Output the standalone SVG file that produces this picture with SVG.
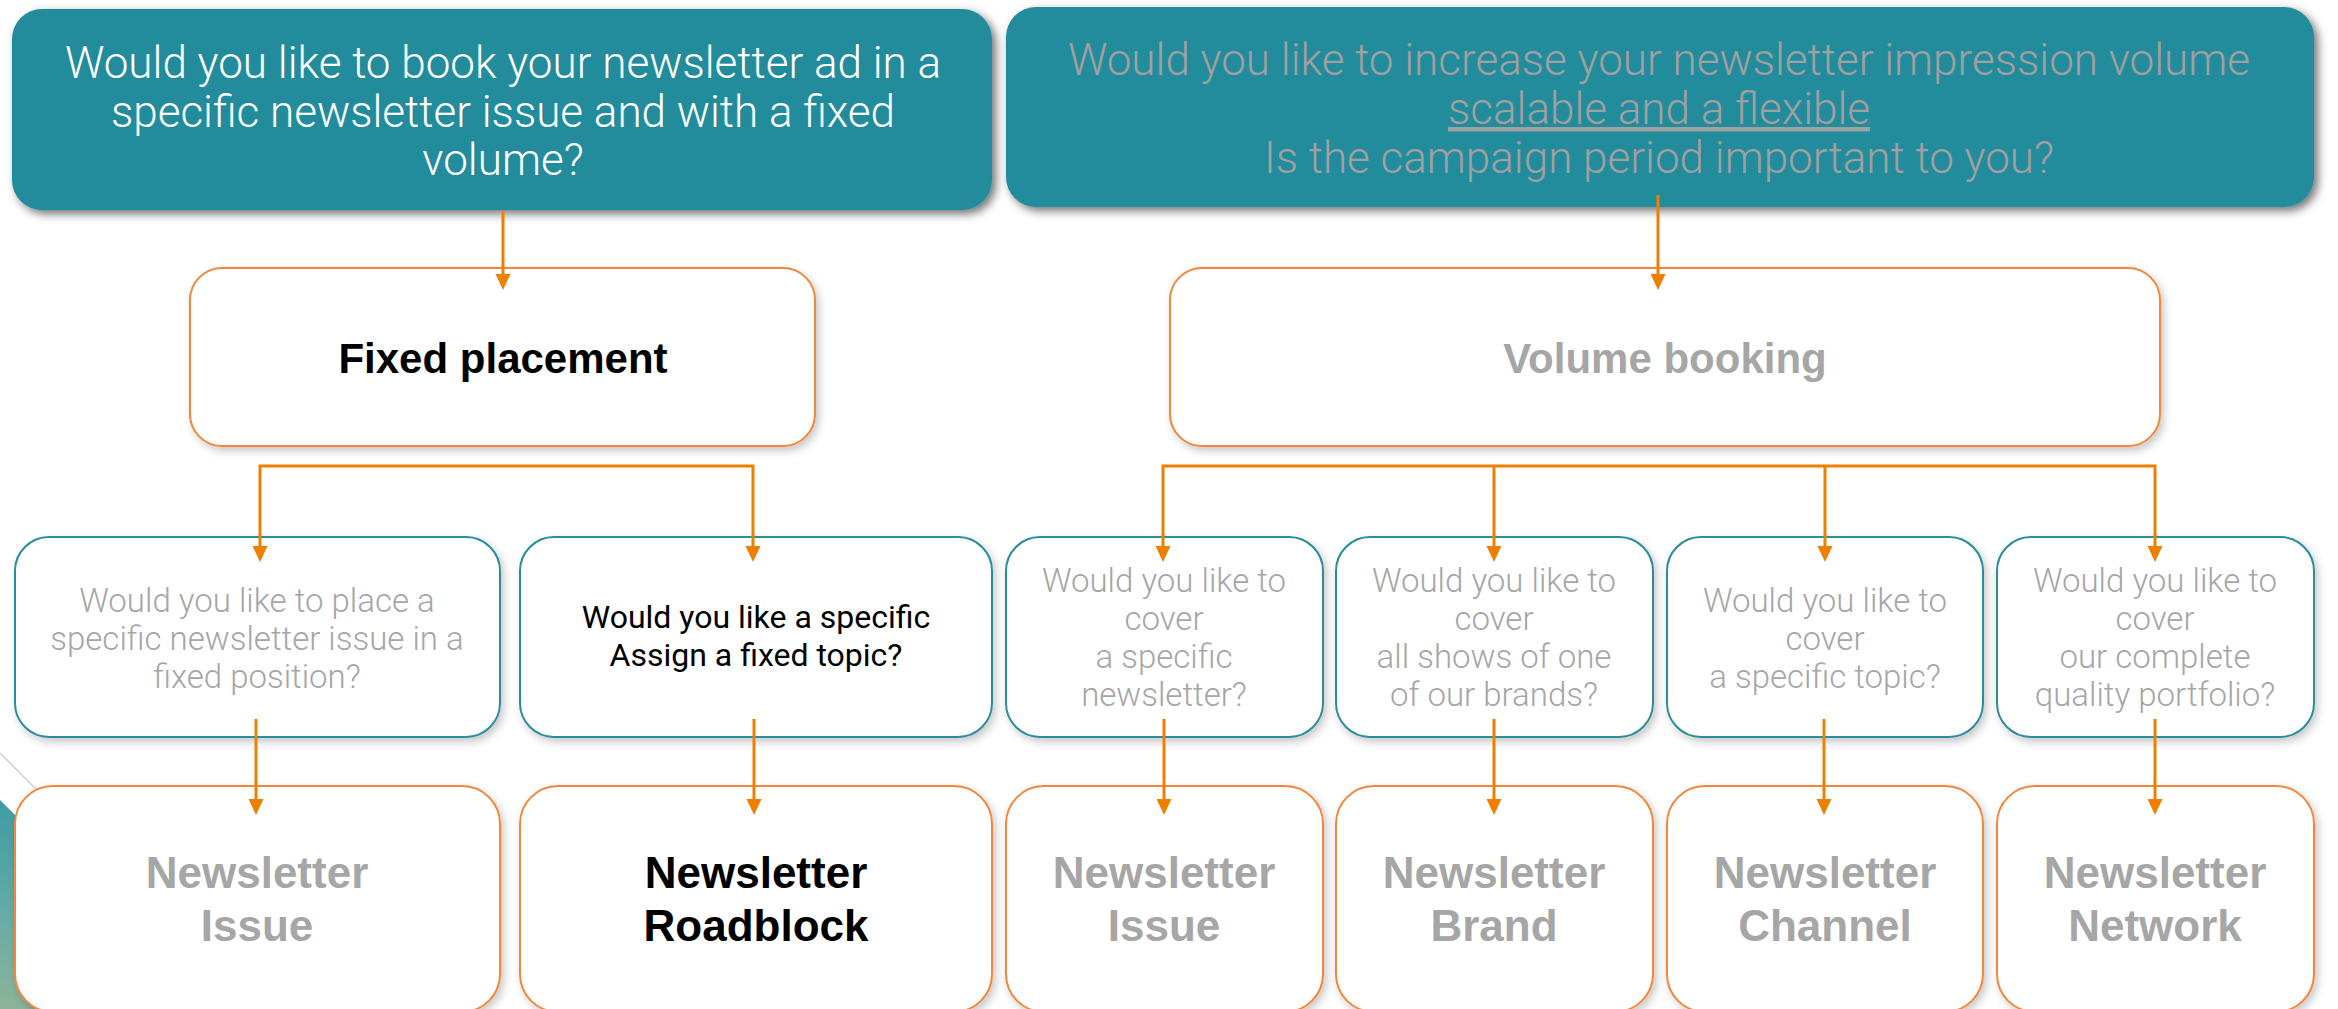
<svg xmlns="http://www.w3.org/2000/svg" width="2338" height="1009" viewBox="0 0 2338 1009">
<defs>
<style>
.top{fill:#218c9c}
.q{fill:#fff;stroke:#2a8d9c;stroke-width:2}
.r{fill:#fff;stroke:#f2873a;stroke-width:2}
.lt{font-family:Roboto,"Liberation Sans",sans-serif;font-weight:300;text-anchor:middle}
.rg{font-family:Roboto,"Liberation Sans",sans-serif;font-weight:400;text-anchor:middle}
.bd{font-family:"Liberation Sans",Arial,sans-serif;font-weight:700;text-anchor:middle}
.gray{fill:#a6a6a6}
.conn{fill:none;stroke:#ee7f00;stroke-width:3}
</style>
<filter id="sh1" x="-5%" y="-10%" width="112%" height="125%">
<feDropShadow dx="4" dy="4" stdDeviation="5" flood-color="#000" flood-opacity="0.55"/>
</filter>
<filter id="sh2" x="-5%" y="-10%" width="112%" height="125%">
<feDropShadow dx="3" dy="4" stdDeviation="4" flood-color="#000" flood-opacity="0.22"/>
</filter>
<linearGradient id="bgGrad" x1="0" y1="0" x2="0" y2="1">
<stop offset="0" stop-color="#3e9ca2"/>
<stop offset="0.5" stop-color="#62aaa8"/>
<stop offset="1" stop-color="#8db49a"/>
</linearGradient>
<marker id="ah" markerUnits="userSpaceOnUse" markerWidth="17" markerHeight="16" refX="8" refY="7.5" orient="auto-start-reverse">
<path d="M0,0 L16,7.5 L0,15 Z" fill="#ee7f00"/>
</marker>
</defs>
<rect width="2338" height="1009" fill="#fff"/>
<g id="background">
<polygon points="0,800 209,1009 0,1009" fill="url(#bgGrad)"/>
<line x1="0" y1="753" x2="260" y2="1013" stroke="#c8c8c8" stroke-width="1.2"/>
</g>

<g id="q-fixed-top">
<rect class="top" x="12" y="9" width="980" height="201" rx="30" filter="url(#sh1)"/>
<text class="lt" font-size="44" fill="#fff"><tspan x="503" y="78">Would you like to book your newsletter ad in a</tspan><tspan x="503" y="127">specific newsletter issue and with a fixed</tspan><tspan x="503" y="175">volume?</tspan></text>
</g>
<g id="q-volume-top">
<rect class="top" x="1006" y="7" width="1308" height="200" rx="30" filter="url(#sh1)"/>
<text class="lt" font-size="44" fill="#a0a0a0"><tspan x="1659" y="75">Would you like to increase your newsletter impression volume</tspan><tspan x="1659" y="124" text-decoration="underline">scalable and a flexible</tspan><tspan x="1659" y="173">Is the campaign period important to you?</tspan></text>
</g>

<g id="fixed-placement">
<rect class="r" x="190" y="268" width="625" height="178" rx="32" filter="url(#sh2)"/>
<text class="bd" font-size="42" x="503" y="373" fill="#000">Fixed placement</text>
</g>
<g id="volume-booking">
<rect class="r" x="1170" y="268" width="990" height="178" rx="32" filter="url(#sh2)"/>
<text class="bd gray" font-size="42" x="1665" y="373">Volume booking</text>
</g>

<g id="q-issue">
<rect class="q" x="15" y="537" width="485" height="200" rx="34" filter="url(#sh2)"/>
<text class="lt gray" font-size="33"><tspan x="257" y="612">Would you like to place a</tspan><tspan x="257" y="650">specific newsletter issue in a</tspan><tspan x="257" y="688">fixed position?</tspan></text>
</g>
<g id="q-roadblock">
<rect class="q" x="520" y="537" width="472" height="200" rx="34" filter="url(#sh2)"/>
<text class="rg" font-size="32" fill="#000"><tspan x="756" y="628">Would you like a specific</tspan><tspan x="756" y="666">Assign a fixed topic?</tspan></text>
</g>
<g id="q-newsletter">
<rect class="q" x="1006" y="537" width="317" height="200" rx="34" filter="url(#sh2)"/>
<text class="lt gray" font-size="33"><tspan x="1164" y="592">Would you like to</tspan><tspan x="1164" y="630">cover</tspan><tspan x="1164" y="668">a specific</tspan><tspan x="1164" y="706">newsletter?</tspan></text>
</g>
<g id="q-brand">
<rect class="q" x="1336" y="537" width="317" height="200" rx="34" filter="url(#sh2)"/>
<text class="lt gray" font-size="33"><tspan x="1494" y="592">Would you like to</tspan><tspan x="1494" y="630">cover</tspan><tspan x="1494" y="668">all shows of one</tspan><tspan x="1494" y="706">of our brands?</tspan></text>
</g>
<g id="q-channel">
<rect class="q" x="1667" y="537" width="316" height="200" rx="34" filter="url(#sh2)"/>
<text class="lt gray" font-size="33"><tspan x="1825" y="612">Would you like to</tspan><tspan x="1825" y="650">cover</tspan><tspan x="1825" y="688">a specific topic?</tspan></text>
</g>
<g id="q-network">
<rect class="q" x="1997" y="537" width="317" height="200" rx="34" filter="url(#sh2)"/>
<text class="lt gray" font-size="33"><tspan x="2155" y="592">Would you like to</tspan><tspan x="2155" y="630">cover</tspan><tspan x="2155" y="668">our complete</tspan><tspan x="2155" y="706">quality portfolio?</tspan></text>
</g>

<g id="r-issue">
<rect class="r" x="15" y="786" width="485" height="226" rx="38" filter="url(#sh2)"/>
<text class="bd gray" font-size="44"><tspan x="257" y="888">Newsletter</tspan><tspan x="257" y="941">Issue</tspan></text>
</g>
<g id="r-roadblock">
<rect class="r" x="520" y="786" width="472" height="226" rx="38" filter="url(#sh2)"/>
<text class="bd" font-size="44" fill="#000"><tspan x="756" y="888">Newsletter</tspan><tspan x="756" y="941">Roadblock</tspan></text>
</g>
<g id="r-issue2">
<rect class="r" x="1006" y="786" width="317" height="226" rx="38" filter="url(#sh2)"/>
<text class="bd gray" font-size="44"><tspan x="1164" y="888">Newsletter</tspan><tspan x="1164" y="941">Issue</tspan></text>
</g>
<g id="r-brand">
<rect class="r" x="1336" y="786" width="317" height="226" rx="38" filter="url(#sh2)"/>
<text class="bd gray" font-size="44"><tspan x="1494" y="888">Newsletter</tspan><tspan x="1494" y="941">Brand</tspan></text>
</g>
<g id="r-channel">
<rect class="r" x="1667" y="786" width="316" height="226" rx="38" filter="url(#sh2)"/>
<text class="bd gray" font-size="44"><tspan x="1825" y="888">Newsletter</tspan><tspan x="1825" y="941">Channel</tspan></text>
</g>
<g id="r-network">
<rect class="r" x="1997" y="786" width="317" height="226" rx="38" filter="url(#sh2)"/>
<text class="bd gray" font-size="44"><tspan x="2155" y="888">Newsletter</tspan><tspan x="2155" y="941">Network</tspan></text>
</g>

<g id="connectors">
<path class="conn" d="M503,211 V282" marker-end="url(#ah)"/>
<path class="conn" d="M1658,195 V282" marker-end="url(#ah)"/>
<path class="conn" d="M260,554 V466 H753 V554" marker-start="url(#ah)" marker-end="url(#ah)"/>
<path class="conn" d="M1163,554 V466 H2155 V554" marker-start="url(#ah)" marker-end="url(#ah)"/>
<path class="conn" d="M1494,466 V554" marker-end="url(#ah)"/>
<path class="conn" d="M1825,466 V554" marker-end="url(#ah)"/>
<path class="conn" d="M256,719 V807" marker-end="url(#ah)"/>
<path class="conn" d="M754,719 V807" marker-end="url(#ah)"/>
<path class="conn" d="M1164,719 V807" marker-end="url(#ah)"/>
<path class="conn" d="M1494,719 V807" marker-end="url(#ah)"/>
<path class="conn" d="M1824,719 V807" marker-end="url(#ah)"/>
<path class="conn" d="M2155,719 V807" marker-end="url(#ah)"/>
</g>
</svg>
